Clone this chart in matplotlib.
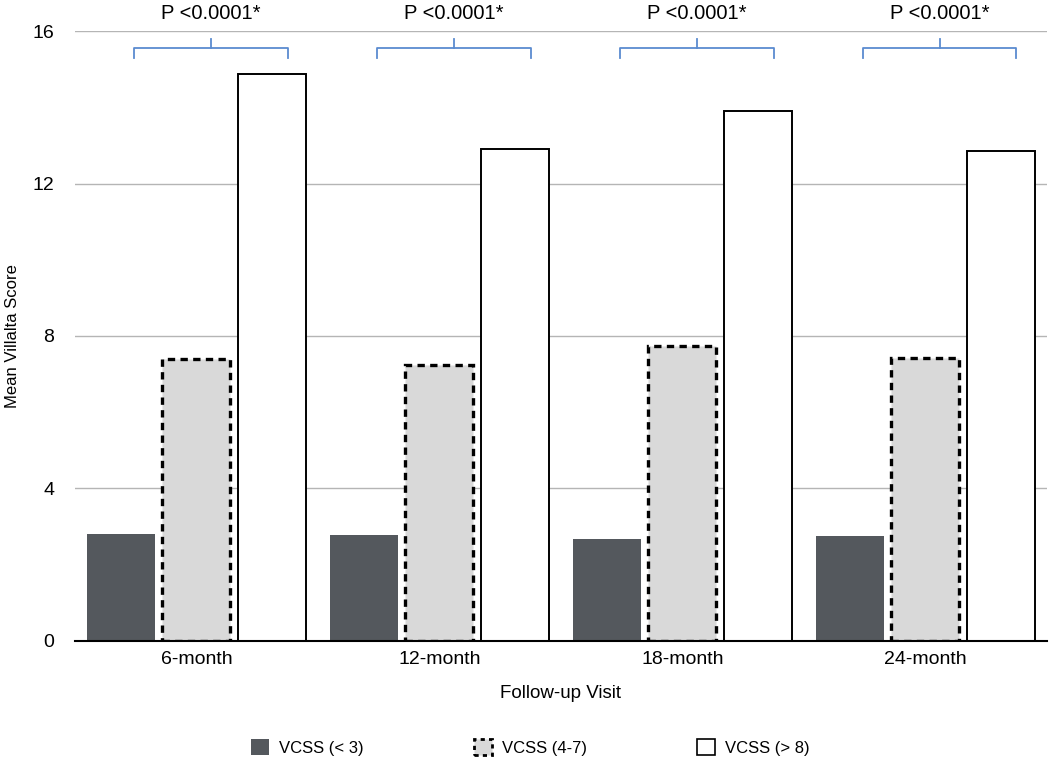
import matplotlib.pyplot as plt
import numpy as np
from matplotlib.patches import Patch

# données
visits = ["6-month", "12-month", "18-month", "24-month"]
vcss_low = [2.81, 2.78, 2.68, 2.75]     # VCSS (< 3)
vcss_mid = [7.40, 7.24, 7.74, 7.42]     # VCSS (4-7)
vcss_high = [14.87, 12.90, 13.90, 12.85]  # VCSS (> 8)
p_labels = ["P <0.0001*"] * 4

plt.rcParams["font.family"] = ["Liberation Sans", "DejaVu Sans"]

fig = plt.figure(figsize=(10.5, 7.68), dpi=100)
ax = fig.add_axes([0.0714, 0.1654, 0.9256, 0.7942])

x = np.arange(len(visits))
w = 0.28
off = 0.31

ax.bar(x - off, vcss_low, w, color="#54585d", zorder=3, label="VCSS (< 3)")
ax.bar(x, vcss_mid, w, color="#d9d9d9", edgecolor="black", linewidth=2.4,
       linestyle=(0, (2.2, 1.6)), zorder=3, label="VCSS (4-7)")
ax.bar(x + off, vcss_high, w, color="white", edgecolor="black", linewidth=1.4,
       zorder=3, label="VCSS (> 8)")

# accolades + p-values
blue = "#5b8bd0"
for i, lab in enumerate(p_labels):
    c = i + 0.06
    hw = 0.315
    ax.plot([c - hw, c - hw, c + hw, c + hw], [15.3, 15.55, 15.55, 15.3],
            color=blue, lw=1.3, clip_on=False, zorder=4)
    ax.plot([c, c], [15.55, 15.78], color=blue, lw=1.3, clip_on=False, zorder=4)
    ax.text(c, 16.2, lab, ha="center", va="bottom", fontsize=14.5, clip_on=False)

ax.set_xlim(-0.5, 3.5)
ax.set_ylim(0, 16)
ax.set_yticks([0, 4, 8, 12, 16])
ax.set_xticks(x)
ax.set_xticklabels(visits)
ax.tick_params(axis="both", length=0, labelsize=14)
ax.tick_params(axis="y", pad=15)
ax.tick_params(axis="x", pad=7)
ax.yaxis.grid(True, color="#b5b5b5", lw=1, zorder=0)
for s in ["top", "right", "left"]:
    ax.spines[s].set_visible(False)
ax.spines["bottom"].set_linewidth(1.5)
ax.spines["bottom"].set_zorder(5)

fig.text(560 / 1050, 1 - 693 / 768, "Follow-up Visit", fontsize=13.5,
         ha="center", va="center")
fig.text(13 / 1050, 1 - 336 / 768, "Mean Villalta Score", fontsize=12,
         rotation=90, ha="center", va="center")

handles = [
    Patch(facecolor="#54585d", label="VCSS (< 3)"),
    Patch(facecolor="#d9d9d9", edgecolor="black", linewidth=2.0,
          linestyle=(0, (1.5, 1.5)), label="VCSS (4-7)"),
    Patch(facecolor="white", edgecolor="black", linewidth=1.2, label="VCSS (> 8)"),
]
fig.legend(handles=handles, loc="center", bbox_to_anchor=(0.505, 0.027), ncol=3,
           frameon=False, fontsize=12, handlelength=1.1, handleheight=1.1,
           columnspacing=6.6, handletextpad=0.6)

fig.savefig("out.png", dpi=100)
